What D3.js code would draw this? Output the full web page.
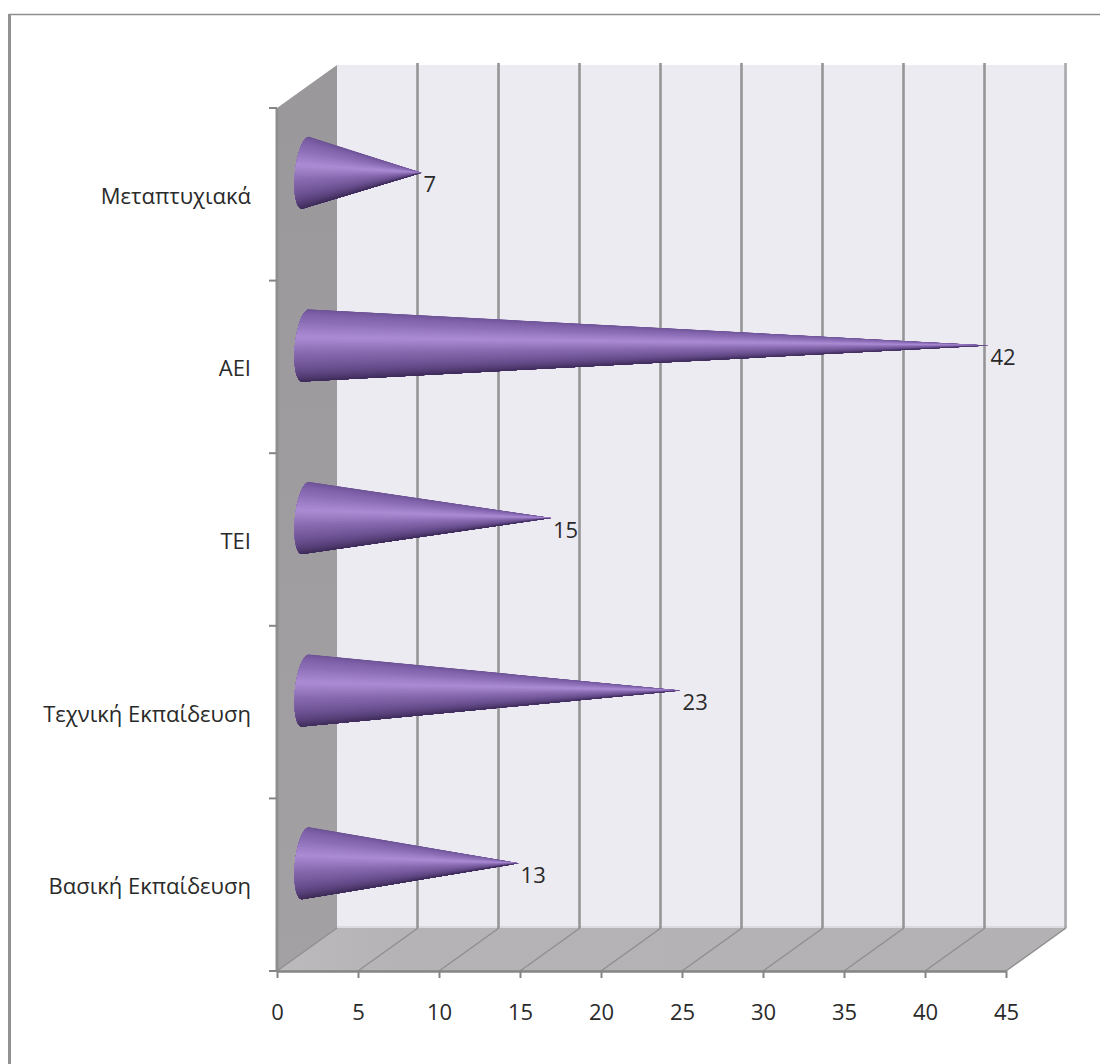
<!DOCTYPE html>
<html lang="el">
<head>
<meta charset="utf-8">
<title>Επίπεδο εκπαίδευσης</title>
<script src="https://cdn.jsdelivr.net/npm/d3@7"></script>
<style>
  html, body { margin: 0; padding: 0; background: #fff; }
  svg { display: block; }
  text { font-family: "Open Sans", "Noto Sans", sans-serif; fill: #2a2a2a; }
</style>
</head>
<body>
<svg id="chart" width="1100" height="1064"></svg>
<script>
// Education levels, top row first, with the value of each cone
const categories = ["Μεταπτυχιακά", "ΑΕΙ", "ΤΕΙ", "Τεχνική Εκπαίδευση", "Βασική Εκπαίδευση"];
const values = [7, 42, 15, 23, 13];
const xTicks = [0, 5, 10, 15, 20, 25, 30, 35, 40, 45];

// Shading across a cone, from its upper edge to its lower edge
const shadeOffsets = [0, 0.1, 0.28, 0.43, 0.58, 0.72, 0.88, 1];
const shadeColors = ["#6a5290", "#75599f", "#8d6fb8", "#ab8cd4", "#8567ad", "#6a5090", "#4b3669", "#3b2a55"];

const svg = d3.select("#chart");
const x = d3.scaleLinear().domain([0, 45]).range([277, 1006]);
const y = d3.scaleBand().domain(categories).range([108, 971]);
const depthX = 60, depthY = -43;
const bottomY = y.range()[1], topY = y.range()[0];
const poly = pts => d3.line()(pts) + "Z";

const defs = svg.append("defs");
const sideGrad = defs.append("linearGradient").attr("id", "sideWall")
  .attr("x1", 0).attr("y1", 0).attr("x2", 0).attr("y2", 1);
sideGrad.append("stop").attr("offset", 0).attr("stop-color", "#9a989b");
sideGrad.append("stop").attr("offset", 1).attr("stop-color", "#a3a1a4");
const floorGrad = defs.append("linearGradient").attr("id", "floor")
  .attr("x1", 0).attr("y1", 0).attr("x2", 1).attr("y2", 0);
floorGrad.append("stop").attr("offset", 0).attr("stop-color", "#bcbabd");
floorGrad.append("stop").attr("offset", 0.15).attr("stop-color", "#b5b3b6");
floorGrad.append("stop").attr("offset", 1).attr("stop-color", "#b3b1b4");

// Outer frame: top and left edges only
svg.append("path").attr("d", "M9.5,1064V14.5H1100").attr("fill", "none")
  .attr("stroke", "#8e8e8e").attr("stroke-width", 1.6);
svg.append("rect").attr("x", 8).attr("y", 14).attr("width", 3).attr("height", 1050).attr("fill", "#929292");

// Back wall, side wall and floor of the box
const backLeft = x(0) + depthX, backRight = x(45) + depthX;
svg.append("path").attr("fill", "#edebf2")
  .attr("d", poly([[backLeft, topY + depthY], [backRight + 1, topY + depthY], [backRight + 1, bottomY + depthY], [backLeft, bottomY + depthY]]));
svg.append("path").attr("fill", "url(#sideWall)")
  .attr("d", poly([[x(0), topY], [backLeft, topY + depthY], [backLeft, bottomY + depthY], [x(0), bottomY]]));
svg.append("path").attr("fill", "url(#floor)")
  .attr("d", poly([[x(0), bottomY], [backLeft, bottomY + depthY], [backRight, bottomY + depthY], [x(45), bottomY]]));
svg.append("rect").attr("x", backLeft).attr("y", bottomY + depthY - 2).attr("width", backRight - backLeft + 1)
  .attr("height", 2).attr("fill", "#dcdadf");

// Gridlines up the back wall and across the floor
svg.append("g").selectAll("line").data(xTicks.slice(1)).join("line")
  .attr("x1", d => x(d) + depthX - 0.5).attr("x2", d => x(d) + depthX - 0.5)
  .attr("y1", topY + depthY - 2).attr("y2", bottomY + depthY)
  .attr("stroke", d => d === 45 ? "#a9a9ab" : "#959596").attr("stroke-width", 2.6);
svg.append("g").selectAll("line").data(xTicks).join("line")
  .attr("x1", d => x(d)).attr("x2", d => x(d) + depthX)
  .attr("y1", bottomY).attr("y2", bottomY + depthY)
  .attr("stroke", "#8f8f90").attr("stroke-width", 1.5);

// Value axis along the front edge of the floor
const xAxis = svg.append("g").attr("transform", `translate(0,${bottomY})`)
  .call(d3.axisBottom(x).tickValues(xTicks).tickSize(7).tickPadding(26).tickSizeOuter(0));
xAxis.select(".domain").attr("stroke", "#858585").attr("stroke-width", 2.4);
xAxis.selectAll(".tick line").attr("stroke", "#858585").attr("stroke-width", 2);
xAxis.attr("font-family", null);
xAxis.selectAll(".tick text").attr("font-size", 22).attr("fill", "#2a2a2a");

// Category axis: ticks on band edges, labels in band centres
const edges = d3.range(categories.length + 1).map(i => topY + i * y.step());
svg.append("line").attr("x1", x(0)).attr("x2", x(0)).attr("y1", topY).attr("y2", bottomY)
  .attr("stroke", "#8f8f90").attr("stroke-width", 3);
svg.append("g").selectAll("line").data(edges).join("line")
  .attr("x1", x(0) - 8).attr("x2", x(0)).attr("y1", d => d).attr("y2", d => d)
  .attr("stroke", "#858585").attr("stroke-width", 2);
svg.append("g").selectAll("text").data(categories).join("text")
  .attr("x", 251).attr("y", d => y(d) + y.bandwidth() / 2 + 9.5)
  .attr("text-anchor", "end").attr("font-size", 22).text(d => d);

// Cones: a fan from the tip to the tilted elliptical base, each sliver
// painted over the rest of the base so the shading has no seams and its
// bands converge on the tip
const shade = d3.scaleLinear().domain(shadeOffsets).range(shadeColors);
const slivers = 60, baseHalf = 36, baseBulge = 10.5, baseSkew = 3.5;
const mid = d => y(d) + y.bandwidth() / 2 - 21.5;
const basePoint = (cat, t) => {
  const a = (t - 0.5) * Math.PI;
  return [x(0) + 28.5 - baseBulge * Math.cos(a) - baseSkew * Math.sin(a), mid(cat) + baseHalf * Math.sin(a)];
};
const cones = svg.append("g").selectAll("g")
  .data(categories.map((c, i) => ({ c, v: values[i] }))).join("g");
cones.selectAll("path")
  .data(d => d3.range(slivers).map(i => ({ ...d, i })))
  .join("path")
  .attr("d", d => {
    const arc = d3.range(d.i, slivers + 1).map(k => basePoint(d.c, k / slivers));
    return poly([[x(d.v) + 31, mid(d.c)], ...arc]);
  })
  .attr("fill", d => shade((d.i + 0.5) / slivers));

// Value labels beside each tip
svg.append("g").selectAll("text").data(values).join("text")
  .attr("x", d => x(d) + 33).attr("y", (d, i) => mid(categories[i]) + 19.5)
  .attr("font-size", 22).text(d => d);
</script>
</body>
</html>
